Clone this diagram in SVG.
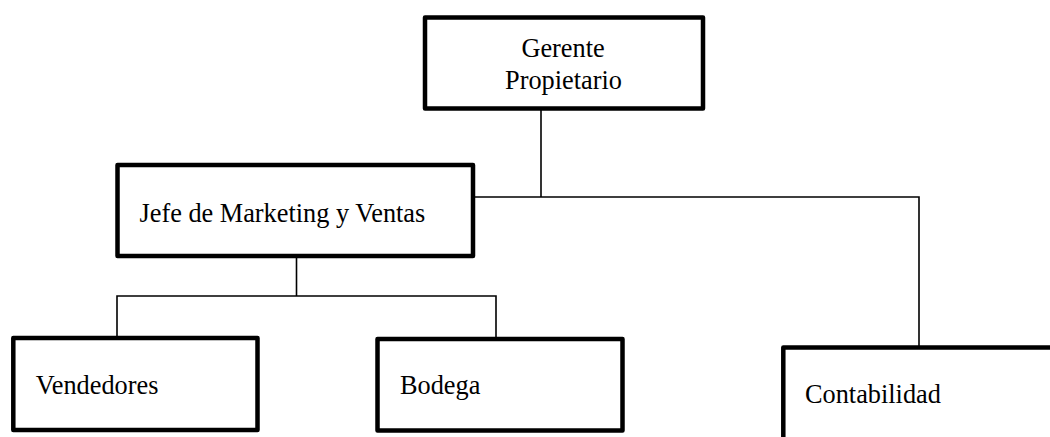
<svg xmlns="http://www.w3.org/2000/svg" width="1050" height="437" viewBox="0 0 1050 437">
  <style>
    .box { fill: #ffffff; stroke: #000000; stroke-width: 4.5; stroke-linejoin: round; }
    .link { fill: none; stroke: #000000; stroke-width: 1.6; }
    .lbl { font-family: "Liberation Serif", "Times New Roman", serif; font-size: 26.3px; fill: #000000; }
  </style>
  <rect width="1050" height="437" fill="#ffffff"/>

  <!-- connectors -->
  <g id="connectors">
    <path class="link" d="M541,110 V197"/>
    <path class="link" d="M475,197 H919 V346"/>
    <path class="link" d="M296.5,258 V296"/>
    <path class="link" d="M117,336 V296 H496 V337"/>
  </g>

  <g id="gerente">
    <rect class="box" x="425" y="17.5" width="278" height="91"/>
    <text class="lbl" x="563" y="57" text-anchor="middle">Gerente</text>
    <text class="lbl" x="563.5" y="89" text-anchor="middle">Propietario</text>
  </g>

  <g id="jefe-marketing">
    <rect class="box" x="117.5" y="165" width="355.5" height="91"/>
    <text class="lbl" x="139.5" y="221.5">Jefe de Marketing y Ventas</text>
  </g>

  <g id="vendedores">
    <rect class="box" x="13.3" y="338" width="244.2" height="92"/>
    <text class="lbl" x="35.7" y="394">Vendedores</text>
  </g>

  <g id="bodega">
    <rect class="box" x="377.5" y="339" width="245" height="91.5"/>
    <text class="lbl" x="400" y="394">Bodega</text>
  </g>

  <g id="contabilidad">
    <rect class="box" x="783.3" y="347.5" width="300" height="120"/>
    <text class="lbl" x="805" y="402.5">Contabilidad</text>
  </g>
</svg>
